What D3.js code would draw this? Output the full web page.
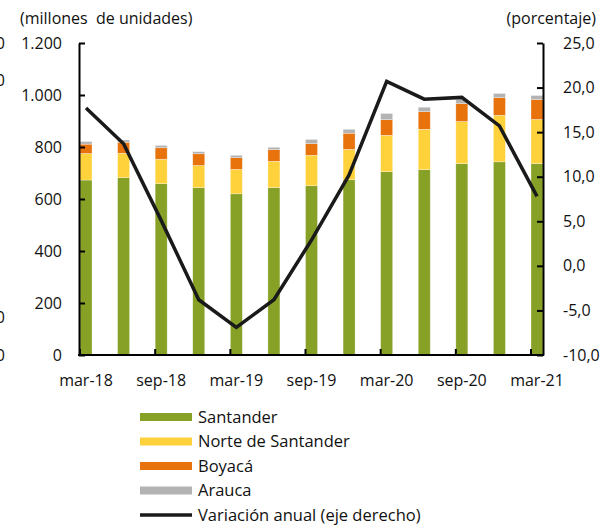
<!DOCTYPE html>
<html>
<head>
<meta charset="utf-8">
<script src="https://cdn.jsdelivr.net/npm/d3@7"></script>
<style>
    body { margin: 0; background: #fff; }
    svg text { font-family: "Open Sans", sans-serif; fill: #111; }
    .tick_lbl { font-size: 16px; }
    .legend_lbl { font-size: 16.5px; }
</style>
</head>
<body>
<div id="chart"></div>
<script>
// quarters (mar-18 .. mar-21)
const quarters = ["mar-18", "jun-18", "sep-18", "dic-18", "mar-19", "jun-19", "sep-19",
    "dic-19", "mar-20", "jun-20", "sep-20", "dic-20", "mar-21"];
const tick_quarters = ["mar-18", "sep-18", "mar-19", "sep-19", "mar-20", "sep-20", "mar-21"];

// millones de unidades
const santander = [673, 682, 659, 644, 620, 644, 651, 674, 705, 713, 736, 743, 736];
const norte_santander = [102, 94, 94, 85, 94, 101, 117, 117, 140, 155, 162, 179, 170];
const boyaca = [36, 42, 44, 45, 45, 45, 45, 62, 60, 68, 69, 68, 77];
const arauca = [10, 9, 9, 8, 9, 9, 16, 15, 24, 17, 16, 16, 15];

// porcentaje
const variacion = [17.7, 13.7, 5.1, -3.8, -6.9, -3.8, 2.9, 10.2, 20.7, 18.7, 18.9, 15.7, 7.8];

const left_ticks = [0, 200, 400, 600, 800, 1000, 1200];
const right_ticks = [-10, -5, 0, 5, 10, 15, 20, 25];

const series_names = ["Santander", "Norte de Santander", "Boyacá", "Arauca"];
const series_colors = ["#87a126", "#ffd23b", "#e8730d", "#b3b3b3"];

const W = 613, H = 527;
const x0 = 79, x1 = 543, y_top = 43, y_bot = 355;
const bar_w = 12;

let svg = d3.select("#chart")
    .append("svg")
    .attr("width", W)
    .attr("height", H);

let x = d3.scalePoint()
    .domain(quarters)
    .range([x0 + bar_w / 2 + 1, x1 - bar_w / 2]);

let y_left = d3.scaleLinear().domain([0, 1200]).range([y_bot, y_top]);
let y_right = d3.scaleLinear().domain([-10, 25]).range([y_bot, y_top]);

// stacked bars
let rows = quarters.map(function (q, i) {
    return {q: q, s0: santander[i], s1: norte_santander[i], s2: boyaca[i], s3: arauca[i]};
});
let stack = d3.stack().keys(["s0", "s1", "s2", "s3"])(rows);

svg.append("g")
    .selectAll("g")
    .data(stack)
    .join("g")
    .attr("fill", function (d, i) { return series_colors[i]; })
    .selectAll("rect")
    .data(function (d) { return d; })
    .join("rect")
    .attr("x", function (d) { return x(d.data.q) - bar_w / 2; })
    .attr("y", function (d) { return y_left(d[1]); })
    .attr("width", bar_w)
    .attr("height", function (d) { return y_left(d[0]) - y_left(d[1]); })
    .attr("stroke", "#fff")
    .attr("stroke-opacity", 0.5)
    .attr("stroke-width", 0.6);

// line
svg.append("path")
    .datum(variacion)
    .attr("fill", "none")
    .attr("stroke", "#1a1a1a")
    .attr("stroke-width", 3.5)
    .attr("stroke-linejoin", "miter")
    .attr("d", d3.line()
        .x(function (d, i) { return x(quarters[i]); })
        .y(function (d) { return y_right(d); })
    );

// left axis
let ax_l = svg.append("g")
    .attr("transform", "translate(" + x0 + ",0)")
    .call(d3.axisRight(y_left)
        .tickValues(left_ticks)
        .tickSizeInner(6)
        .tickSizeOuter(0)
        .tickFormat(function (d) { return d3.format(",")(d).replace(/,/g, "."); })
    );
ax_l.select(".domain").attr("stroke", "#000").attr("stroke-width", 2);
ax_l.selectAll(".tick line").attr("stroke", "#000").attr("stroke-width", 2);
ax_l.selectAll(".tick text")
    .attr("class", "tick_lbl")
    .attr("x", -17)
    .attr("text-anchor", "end")
    .attr("fill", "#111");

// right axis
let ax_r = svg.append("g")
    .attr("transform", "translate(" + x1 + ",0)")
    .call(d3.axisLeft(y_right)
        .tickValues(right_ticks)
        .tickSizeInner(6)
        .tickSizeOuter(0)
        .tickFormat(function (d) { return d3.format(".1f")(d).replace(".", ",").replace("−", "-"); })
    );
ax_r.select(".domain").attr("stroke", "#000").attr("stroke-width", 2);
ax_r.selectAll(".tick line").attr("stroke", "#000").attr("stroke-width", 2);
ax_r.selectAll(".tick text")
    .attr("class", "tick_lbl")
    .attr("x", 20)
    .attr("text-anchor", "start")
    .attr("fill", "#111");

// bottom axis
svg.append("line")
    .attr("x1", x0 - 1).attr("x2", x1 + 1)
    .attr("y1", y_bot).attr("y2", y_bot)
    .attr("stroke", "#000").attr("stroke-width", 2);

let ax_b = svg.append("g");
ax_b.selectAll("line")
    .data(tick_quarters)
    .join("line")
    .attr("x1", function (d) { return x(d) - bar_w / 2; })
    .attr("x2", function (d) { return x(d) - bar_w / 2; })
    .attr("y1", y_bot)
    .attr("y2", y_bot - 6)
    .attr("stroke", "#000").attr("stroke-width", 2);
ax_b.selectAll("text")
    .data(tick_quarters)
    .join("text")
    .attr("class", "tick_lbl")
    .attr("x", function (d) { return x(d); })
    .attr("y", y_bot + 31)
    .attr("text-anchor", "middle")
    .text(function (d) { return d; });

// axis titles
svg.append("text")
    .attr("class", "tick_lbl")
    .attr("x", 20)
    .attr("y", 24)
    .text("(millones  de unidades)")
    .style("white-space", "pre");

svg.append("text")
    .attr("class", "tick_lbl")
    .attr("x", 596)
    .attr("y", 24)
    .attr("text-anchor", "end")
    .text("(porcentaje)");

// labels of a neighbouring axis, cut by the left edge as in the source
svg.selectAll(".cut")
    .data([y_top, 80, 317, y_bot])
    .join("text")
    .attr("class", "cut tick_lbl")
    .attr("x", 5)
    .attr("y", function (d) { return d + 6; })
    .attr("text-anchor", "end")
    .text("0");

// legend
let legend = svg.append("g");
series_names.forEach(function (name, i) {
    let ly = 417 + i * 24.5;
    legend.append("rect")
        .attr("x", 140).attr("y", ly - 4)
        .attr("width", 52).attr("height", 8)
        .attr("fill", series_colors[i]);
    legend.append("text")
        .attr("class", "legend_lbl")
        .attr("x", 198).attr("y", ly + 5.5)
        .text(name);
});
legend.append("line")
    .attr("x1", 140).attr("x2", 192)
    .attr("y1", 515).attr("y2", 515)
    .attr("stroke", "#1a1a1a").attr("stroke-width", 3.5);
legend.append("text")
    .attr("class", "legend_lbl")
    .attr("x", 198).attr("y", 520.5)
    .text("Variación anual (eje derecho)");
</script>
</body>
</html>
